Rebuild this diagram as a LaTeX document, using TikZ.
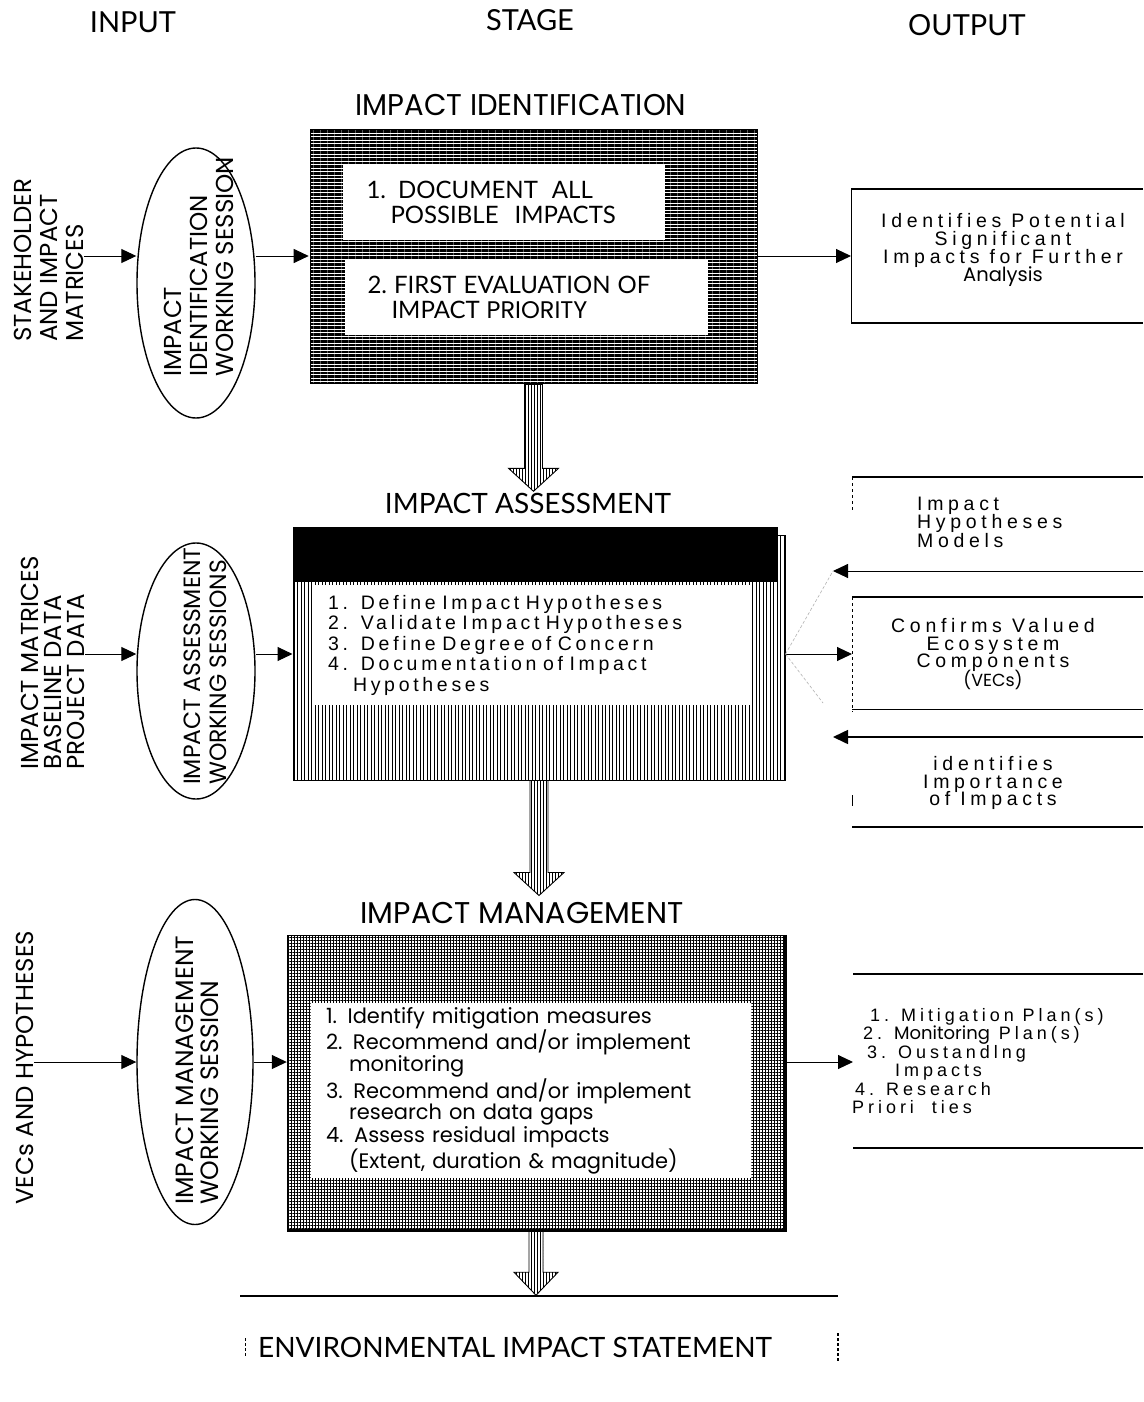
\documentclass[tikz,border=0pt]{standalone}
\usepackage{graphicx}
\usepackage{fontspec}
\setmainfont{Liberation Sans}
\newfontfamily\geo{Poppins}
\newfontfamily\gil{Lato}
\newfontfamily\wideA[LetterSpace=24]{Liberation Sans}
\newfontfamily\wideB[LetterSpace=19]{Liberation Sans}
\newfontfamily\wideC[LetterSpace=22]{Liberation Sans}
\usetikzlibrary{arrows.meta,shapes.geometric,patterns.meta}
\newcommand\fsz[2]{\fontsize{#1}{#2}\selectfont}
\newcommand\sqz[2][0.85]{\scalebox{#1}[1]{#2}}
% keep line pitch fixed even for tall glyphs
\setlength{\lineskiplimit}{-100pt}

\begin{document}
\begin{tikzpicture}[x=1pt,y=-1pt,
  hdr/.style={font={\gil\fsz{29}{30}}, inner sep=0pt},
  ttl/.style={font={\geo\fsz{30}{31}}, inner sep=0pt},
  ttlb/.style={font={\gil\fsz{28}{30}}, inner sep=0pt},
  arr/.style={-{Triangle[length=15pt,width=14pt]}, line width=1pt},
  sess/.style={ellipse, draw, line width=1.4pt, inner sep=0pt},
  vlab/.style={rotate=90, anchor=west, align=left, inner sep=0pt, font={\geo\fsz{24.5}{26}}},
  stage/.style={draw, line width=1pt, pattern color=black, inner sep=0pt},
  wbox/.style={fill=white, inner sep=0pt, align=left},
  bigarr/.style={draw=black, line width=0.9pt, pattern={Lines[angle=90,distance=3pt,line width=0.9pt]}},
  obold/.style={line width=2pt},
  othin/.style={line width=0.8pt},
  otxt/.style={font={\wideA\fsz{19.5}{18}}, align=center, inner sep=0pt},
  faint/.style={gray!60, densely dashed, line width=0.6pt}
]
\useasboundingbox (0,0) rectangle (1143,1402);
\fill[white] (0,0) rectangle (1143,1402);

% column headings
\node[hdr] (hin) at (133,22) {INPUT};
\node[hdr] (hst) at (530,20) {STAGE};
\node[hdr] (hout) at (967,25) {OUTPUT};

% row levels for the horizontal connectors
\coordinate (r1) at (0,256);
\coordinate (r2) at (0,654);
\coordinate (r3) at (0,1062);

% ---------- stage 1: impact identification ----------
\node[ttl] (t1) at (521,105) {\sqz[0.97]{IMPACT IDENTIFICATION}};
\node[stage, pattern={Lines[angle=0,distance=3.5pt,line width=2.6pt]},
      minimum width=447, minimum height=253] (b1) at (533.5,256.5) {};
\node[wbox, minimum width=322, minimum height=75, text width=275,
      font={\gil\fsz{24}{25}}] (s11) at (504,202.5)
  {1. DOCUMENT\hspace{14pt}ALL\\\hspace*{24pt}POSSIBLE\hspace{16pt}IMPACTS};
\node[wbox, minimum width=363, minimum height=75, text width=318,
      font={\gil\fsz{24}{25}}] (s12) at (526.5,297.5)
  {2.\hspace{7pt}FIRST\hspace{7pt}EVALUATION\hspace{7pt}OF\\\hspace*{24pt}IMPACT\hspace{7pt}{\geo PRIORITY}};

\node[sess, minimum width=118, minimum height=270] (e1) at (196,283) {};
\node[vlab] (l1) at (199,377) {IMPACT\\IDENTIFICATION\\WORKING SESSION};
\node[vlab] (i1) at (49,342) {STAKEHOLDER\\AND IMPACT\\MATRICES};

\draw[arr] (i1.south |- r1) -- (e1.west |- r1);
\draw[arr] (e1.east |- r1) -- (b1.west |- r1);

% output of stage 1
\coordinate (o1) at (851,189);
\draw[othin] (o1) -- (851,323);
\draw[obold] (o1) -- (1143,189);
\draw[obold] (851,323) -- (1143,323);
\node[otxt] (o1t) at (1003,250) {Identifies Potential\\Significant\\Impacts for Further\\{\geo Analysis}};
\draw[arr] (b1.east |- r1) -- (o1 |- r1);

% big arrow 1 -> 2
\draw[bigarr] (b1.south) ++(-9,0) -- ++(0,84) -- ++(-16,0) -- ++(25,23) -- ++(25,-23) -- ++(-16,0) -- ++(0,-84) -- cycle;

% ---------- stage 2: impact assessment ----------
\node[ttlb] (t2) at (528,503) {IMPACT ASSESSMENT};
\node[stage, pattern={Lines[angle=90,distance=3.5pt,line width=1.0pt]},
      minimum width=492, minimum height=245] (b2) at (539,657.5) {};
\fill (293,527) rectangle (778,582);
\node[wbox, minimum width=437, minimum height=120, text width=407,
      font={\wideB\fsz{19.5}{20.5}}] (s2) at (531.5,645)
  {1.\ \ Define Impact Hypotheses\\2.\ \ Validate Impact Hypotheses\\3.\ \ Define Degree of Concern\\4.\ \ Documentation of Impact\\\hspace*{25pt}Hypotheses};

\node[sess, minimum width=118, minimum height=256] (e2) at (196,671) {};
\node[vlab, font={\geo\fsz{23.5}{26}}] (l2) at (205,785) {IMPACT ASSESSMENT\\WORKING SESSIONS};
\node[vlab, font={\geo\fsz{24.5}{23}}] (i2) at (53,770) {IMPACT MATRICES\\BASELINE DATA\\PROJECT DATA};

\draw[arr] (i2.south |- r2) -- (e2.west |- r2);
\draw[arr] (e2.east |- r2) -- (b2.west |- r2);

% outputs of stage 2
\coordinate (o2a) at (852,477);
\coordinate (o2b) at (852,597);
\coordinate (o2e) at (1143,571);
\coordinate (o2f) at (1143,737);
\coordinate (o2tip) at (833,571);
\coordinate (o2ctip) at (833,737);
\draw[obold] (o2a) -- (1143,477);
\draw[othin, dashed] (o2a) -- (852,512);
\draw[arr] (o2e) -- (o2tip);
\node[otxt, align=left, anchor=west, font={\wideA\fsz{19.5}{18.5}}] (o2at) at (917,522) {Impact\\Hypotheses\\Models};

\draw[obold] (o2b) -- (1143,597);
\draw[othin, dashed] (o2b) -- (852,712);
\draw[othin] (852,709) -- (1143,709);
\node[otxt, font={\wideA\fsz{19.5}{17.5}}] (o2bt) at (993,654) {Confirms Valued\\Ecosystem\\Components\\[1pt]{\geo\fsz{17.5}{17.5}(VECs)}};
\draw[arr] (b2.east |- r2) -- (o2b |- r2);

\draw[arr, line width=1.6pt] (o2f) -- (o2ctip);
\draw[obold] (852,827) -- (1143,827);
\draw[othin] (852,795) -- (852,806);
\node[otxt, font={\wideA\fsz{19.5}{17.5}}] (o2ct) at (993,783) {identifies\\Importance\\of Impacts};

\draw[faint] (b2.east |- r2) -- (o2tip);
\draw[faint] (b2.east |- r2) -- (823,703);

% big arrow 2 -> 3
\draw[bigarr] (b2.south) ++(-9,0) -- ++(0,92) -- ++(-16,0) -- ++(25,23) -- ++(25,-23) -- ++(-16,0) -- ++(0,-92) -- cycle;

% ---------- stage 3: impact management ----------
\node[ttl] (t3) at (522,913) {\sqz[1.0]{IMPACT MANAGEMENT}};
\node[stage, pattern={Hatch[angle=0,distance=3pt,line width=0.45pt]},
      minimum width=498, minimum height=295] (b3) at (536,1082.5) {};
\draw[line width=3pt] (b3.north east) -- (b3.south east) -- (b3.south west);
\node[wbox, minimum width=440, minimum height=175, text width=410,
      font={\geo\fsz{21}{21.3}}] (s3) at (531,1090.5)
  {1. Identify mitigation measures\\2. Recommend and/or implement\\\hspace*{23pt}monitoring\\3. Recommend and/or implement\\\hspace*{23pt}research on data gaps\\4. Assess residual impacts\\\hspace*{23pt}(Extent, duration \& magnitude)};

\node[sess, minimum width=116, minimum height=325] (e3) at (195,1062) {};
\node[vlab, font={\geo\fsz{25}{25}}] (l3) at (197.5,1205) {IMPACT MANAGEMENT\\WORKING SESSION};
\node[vlab] (i3) at (25,1205) {VECs AND HYPOTHESES};

\draw[arr] (i3.south |- r3) -- (e3.west |- r3);
\draw[arr] (e3.east |- r3) -- (b3.west |- r3);

% output of stage 3
\coordinate (o3) at (853,974);
\draw[obold] (o3) -- (1143,974);
\draw[obold] (853,1148) -- (1143,1148);
\node[otxt, align=left, anchor=west, font={\wideC\fsz{18}{18.4}}] (o3t) at (852,1061)
  {\hspace*{18pt}1. Mitigation Plan(s)\\\hspace*{11pt}2. {\geo Monitoring} Plan(s)\\\hspace*{15pt}3. Oustandlng\\\hspace*{43pt}Impacts\\\hspace*{3pt}4. Research\\Priori\ \ ties};
\draw[arr] (b3.east |- r3) -- (o3 |- r3);

% big arrow 3 -> statement
\draw[bigarr] (b3.south) ++(-7,0) -- ++(0,42) -- ++(-15,0) -- ++(22,23) -- ++(22,-23) -- ++(-15,0) -- ++(0,-42) -- cycle;

% ---------- environmental impact statement ----------
\coordinate (eL) at (240,1296);
\coordinate (eR) at (838,1296);
\draw[line width=2.2pt] (eL) -- (eR);
\node[ttlb] (eis) at (515,1347) {ENVIRONMENTAL IMPACT STATEMENT};
\draw[densely dashed, line width=0.8pt] (245,1338) -- (245,1356);
\draw[densely dashed, line width=1.2pt] (838,1333) -- (838,1362);
\end{tikzpicture}
\end{document}
